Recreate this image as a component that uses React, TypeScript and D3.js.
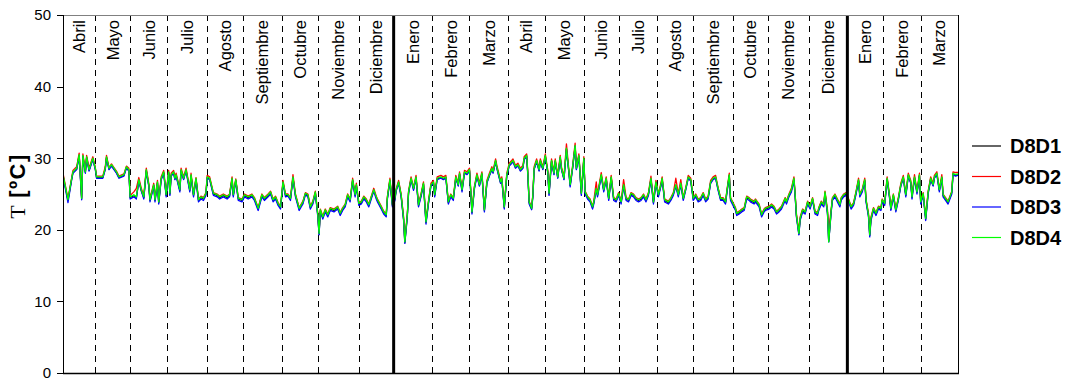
import React from 'react';
import * as d3 from 'd3';

const W = 1067;
const H = 378;
const PLOT = { left: 63, right: 958, top: 15, bottom: 373 };

// month labels (interval between consecutive boundaries)
const monthLabels = [
  'Abril', 'Mayo', 'Junio', 'Julio', 'Agosto', 'Septiembre', 'Octubre', 'Noviembre', 'Diciembre',
  'Enero', 'Febrero', 'Marzo', 'Abril', 'Mayo', 'Junio', 'Julio', 'Agosto', 'Septiembre',
  'Octubre', 'Noviembre', 'Diciembre', 'Enero', 'Febrero', 'Marzo',
];
// boundaries in day index
const monthEdges = [0, 26, 54, 84, 116, 145, 176, 205, 238, 266, 297, 327, 358, 388, 419, 447, 478, 507, 539, 567, 600, 631, 660, 690, 720];
const yearEdges = [266, 631];
const yTicks = [0, 10, 20, 30, 40, 50];

const days = [
  0,4,7,8,11,13,15,16,18,19,
  21,23,24,26,27,30,32,34,35,37,
  39,41,43,45,49,51,53,54,57,59,
  61,63,65,67,69,70,73,74,76,77,
  79,81,83,85,86,87,89,90,91,94,
  95,97,99,102,103,105,107,109,111,113,
  115,116,118,120,121,124,126,129,132,134,
  136,137,139,141,144,146,149,152,154,157,
  160,162,165,167,169,171,173,175,177,179,
  181,183,185,187,190,193,195,197,199,201,
  203,205,206,207,209,211,213,215,218,221,
  223,225,227,229,231,233,235,236,238,240,
  242,244,246,248,250,252,253,256,258,260,
  261,263,265,267,268,270,272,274,275,277,
  278,280,282,284,286,288,290,292,294,296,
  298,299,301,304,306,308,310,312,314,316,
  318,319,321,323,325,327,329,331,333,335,
  337,339,341,343,345,346,348,349,352,353,
  355,357,359,361,
  362,364,366,368,370,371,373,374,375,377,
  378,379,381,383,384,386,388,390,391,393,
  395,396,398,400,401,403,405,407,408,410,
  412,413,415,417,419,420,422,424,426,427,
  429,430,433,435,437,439,441,443,445,447,
  449,451,453,455,457,459,461,463,465,467,
  469,471,473,475,477,479,481,482,484,487,
  489,491,493,495,497,499,501,503,505,507,
  509,511,513,515,517,519,521,523,525,527,
  529,531,533,534,536,537,539,541,
  542,544,546,548,550,552,553,556,557,560,
  562,564,565,568,570,572,574,576,578,581,
  582,584,586,588,589,590,592,593,595,597,
  599,601,603,605,607,608,610,612,613,615,
  616,618,619,621,623,625,626,628,630,632,
  634,636,638,640,641,643,645,646,648,649,
  650,652,654,656,658,659,661,663,665,666,
  668,670,672,674,676,678,680,682,683,685,
  687,689,690,692,694,696,698,700,701,703,
  705,707,708,710,712,715,716,718,720,
];

const d8d1 = [
  27.6,24.1,27.1,28.0,28.5,30.4,24.3,30.3,28.0,30.1,
  28.3,29.4,29.9,28.5,27.3,27.3,27.3,28.5,30.1,28.5,
  29.0,28.5,28.0,27.3,27.6,28.7,28.3,24.5,24.8,24.5,
  26.9,25.5,24.5,28.3,26.2,24.1,26.2,24.1,26.6,23.8,
  27.1,28.0,24.8,28.0,25.0,27.6,28.0,27.1,27.6,25.5,
  28.3,27.1,28.3,25.5,27.6,24.8,27.1,24.1,24.5,24.3,
  25.0,27.3,27.1,25.7,25.0,24.8,24.5,24.8,24.5,24.8,
  27.1,24.8,26.9,24.3,24.1,24.8,24.5,24.8,24.3,22.9,
  24.8,24.3,24.8,25.2,24.1,24.5,23.6,23.1,26.6,24.8,
  24.8,24.3,27.3,24.8,22.9,23.8,25.0,24.8,23.1,23.8,
  25.2,22.0,19.4,22.7,21.7,22.7,22.0,22.9,22.7,23.1,
  22.2,22.9,23.4,24.8,24.1,26.9,24.8,26.2,23.6,23.8,
  24.5,24.1,23.4,24.5,25.5,24.5,24.1,23.1,22.4,22.0,
  24.5,26.9,23.4,24.3,25.5,26.6,24.8,21.5,18.2,22.0,
  25.2,27.1,25.7,27.3,23.4,24.8,26.4,21.0,23.8,26.2,
  26.6,24.8,27.1,27.3,27.1,27.3,23.8,24.8,24.3,27.3,
  26.2,27.8,25.5,28.0,27.8,28.3,22.4,25.9,27.6,26.2,
  27.8,22.7,26.6,27.6,28.5,28.0,29.6,28.7,26.6,27.1,
  23.1,27.6,29.0,29.4,
  29.6,28.7,29.0,28.3,28.7,29.9,30.3,27.6,23.8,22.9,
  24.8,28.5,29.6,28.3,29.6,28.5,30.3,28.0,25.0,29.6,
  27.8,29.6,27.3,30.1,28.5,27.1,31.3,28.0,26.2,28.7,
  31.7,28.5,30.3,25.0,29.9,25.2,24.5,24.1,23.1,23.8,
  25.7,24.8,27.6,25.5,27.1,24.3,27.3,24.3,24.1,25.0,
  23.8,26.2,24.3,24.1,25.0,24.8,24.3,24.1,24.3,24.8,
  24.1,25.0,27.1,23.8,26.6,24.8,26.2,27.1,24.1,23.8,
  24.3,25.0,26.2,24.8,26.4,24.3,25.7,27.3,26.9,24.3,
  24.8,24.1,24.3,25.0,24.1,24.5,26.6,27.1,27.3,25.7,
  24.3,24.3,23.8,25.2,27.6,24.3,23.6,22.9,
  22.2,22.4,22.7,22.9,24.5,24.3,24.1,23.8,24.1,23.4,
  22.0,22.7,22.9,23.1,23.4,23.1,22.4,22.7,23.1,24.3,
  23.8,24.8,25.5,27.1,24.8,22.0,19.4,21.5,22.7,22.4,
  23.8,23.1,24.3,22.4,22.2,22.9,23.8,23.4,25.2,22.4,
  18.4,22.7,24.3,24.8,24.1,23.4,24.3,24.8,25.0,24.1,
  23.1,23.6,25.2,26.9,24.8,25.5,26.9,24.1,22.0,19.2,
  21.5,22.9,22.2,23.1,22.9,24.1,23.6,27.1,24.5,22.9,
  24.8,22.7,24.3,26.2,27.3,24.8,27.6,26.6,24.5,27.3,
  25.2,27.6,23.8,25.0,21.5,25.2,27.1,26.2,27.3,27.8,
  25.5,27.3,24.8,24.3,23.8,25.2,27.8,27.6,27.7,
];

const d8d2 = [
  27.9,24.3,27.3,28.3,28.8,30.7,24.6,30.6,28.2,30.4,
  28.6,29.7,30.2,28.7,27.5,27.5,27.5,28.8,30.4,28.7,
  29.2,28.7,28.2,27.5,27.8,28.9,28.6,24.8,25.3,25.8,
  27.3,25.8,24.7,28.6,26.5,24.3,26.5,24.3,26.9,24.0,
  27.4,28.3,25.0,28.3,25.2,27.9,28.3,27.4,27.9,25.7,
  28.6,27.4,28.6,25.7,27.9,25.0,27.3,24.3,24.7,24.5,
  25.2,27.6,27.4,25.9,25.2,25.0,24.7,25.0,24.7,25.0,
  27.4,25.0,27.1,24.5,24.3,25.0,24.7,25.0,24.5,23.1,
  25.0,24.5,25.0,25.4,24.3,24.7,23.8,23.3,26.9,25.0,
  25.0,24.5,27.7,25.0,23.1,24.0,25.2,25.0,23.3,24.0,
  25.4,22.2,19.7,22.9,21.9,22.9,22.2,23.1,22.9,23.3,
  22.4,23.1,23.6,25.0,24.3,27.2,25.0,26.5,23.8,24.0,
  24.7,24.3,23.6,24.7,25.8,24.7,24.3,23.3,22.6,22.2,
  24.7,27.2,23.6,24.5,25.7,26.9,25.0,21.8,18.6,22.2,
  25.4,27.4,25.9,27.6,23.7,25.0,26.7,21.4,24.0,26.5,
  26.9,25.0,27.4,27.6,27.4,27.6,24.0,25.0,24.5,27.6,
  26.5,28.1,25.7,28.3,28.1,28.6,22.7,26.1,27.9,26.5,
  28.1,22.9,26.9,27.9,28.8,28.3,29.9,29.0,26.9,27.4,
  23.3,27.9,29.3,29.7,
  29.9,29.0,29.3,28.6,29.0,30.2,30.6,27.9,24.0,23.1,
  25.0,28.8,29.9,28.6,29.9,28.8,30.6,28.3,25.2,29.9,
  28.1,29.9,27.6,30.4,28.8,27.4,32.0,28.3,26.5,29.0,
  32.1,28.8,30.6,25.2,30.2,25.4,24.7,24.3,23.3,24.0,
  26.7,25.0,28.0,25.7,27.4,24.5,27.6,24.5,24.3,25.2,
  24.0,27.0,24.5,24.3,25.2,25.0,24.5,24.3,24.5,25.0,
  24.3,25.2,27.5,24.0,26.9,25.0,26.5,27.4,24.3,24.0,
  24.5,25.2,27.2,25.0,27.0,24.5,25.9,27.6,27.2,24.5,
  25.0,24.3,24.5,25.2,24.3,24.7,26.9,27.4,27.6,25.9,
  24.5,24.5,24.0,25.4,27.9,24.5,23.8,23.1,
  22.4,22.6,22.9,23.1,24.7,24.5,24.3,24.0,24.3,23.6,
  22.2,22.9,23.1,23.3,23.6,23.3,22.6,22.9,23.3,24.5,
  24.0,25.0,25.8,27.4,25.0,22.3,19.8,21.8,22.9,22.6,
  24.0,23.3,24.5,22.6,22.4,23.1,24.0,23.6,25.4,22.8,
  20.0,22.9,24.5,25.0,24.3,23.6,24.5,25.0,25.2,24.3,
  23.3,23.8,25.4,27.2,25.0,25.7,27.2,24.3,22.3,19.6,
  21.8,23.1,22.4,23.3,23.1,24.3,23.8,27.4,24.7,23.1,
  25.0,22.9,24.5,26.5,27.6,25.0,27.9,26.9,24.7,27.7,
  25.4,27.9,24.0,25.2,21.8,25.4,27.4,26.5,27.6,28.1,
  25.7,27.7,25.0,24.5,24.0,25.4,28.1,28.0,28.0,
];

const d8d3 = [
  27.5,23.8,27.0,27.9,28.4,30.3,24.2,30.2,27.9,30.0,
  28.2,29.3,29.8,28.4,27.2,27.2,27.2,28.4,30.0,28.4,
  28.9,28.4,27.9,27.2,27.5,28.6,28.2,24.3,24.6,24.3,
  26.8,25.4,24.3,28.2,26.1,23.9,26.1,23.9,26.5,23.6,
  27.0,27.9,24.6,27.9,24.8,27.5,27.9,27.0,27.5,25.3,
  28.2,27.0,28.2,25.3,27.5,24.6,27.0,23.9,24.3,24.1,
  24.8,27.2,27.0,25.5,24.8,24.6,24.3,24.6,24.3,24.6,
  27.0,24.6,26.8,24.1,23.9,24.6,24.3,24.6,24.1,22.7,
  24.6,24.1,24.6,25.0,23.9,24.3,23.4,22.9,26.5,24.6,
  24.7,24.1,27.2,24.6,22.7,23.6,24.9,24.6,22.9,23.6,
  25.1,21.8,19.3,22.5,21.5,22.5,21.8,22.7,22.5,22.9,
  22.0,22.7,23.2,24.6,23.9,26.8,24.6,26.1,23.4,23.6,
  24.3,23.9,23.2,24.3,25.4,24.3,23.9,22.9,22.2,21.8,
  24.3,26.8,23.2,24.1,25.4,26.5,24.6,21.3,18.1,21.8,
  25.1,27.0,25.5,27.2,23.2,24.6,26.3,20.8,23.6,26.1,
  26.5,24.6,27.0,27.2,27.0,27.2,23.6,24.6,24.1,27.2,
  26.1,27.7,25.3,27.9,27.7,28.2,22.2,25.7,27.5,26.1,
  27.7,22.5,26.5,27.5,28.4,27.9,29.5,28.6,26.5,27.0,
  22.9,27.5,28.9,29.3,
  29.5,28.6,28.9,28.2,28.6,29.8,30.2,27.4,23.6,22.8,
  24.6,28.4,29.5,28.2,29.5,28.4,30.2,27.9,24.8,29.5,
  27.7,29.5,27.2,30.0,28.4,27.0,31.2,27.9,26.0,28.6,
  31.6,28.4,30.2,24.8,29.8,25.0,24.3,23.9,22.9,23.6,
  25.6,24.6,27.5,25.3,27.0,24.1,27.2,24.1,23.9,24.8,
  23.6,26.1,24.1,23.9,24.8,24.6,24.1,23.9,24.1,24.6,
  23.9,24.8,27.0,23.6,26.5,24.6,26.1,27.0,23.9,23.6,
  24.1,24.8,26.1,24.6,26.3,24.1,25.6,27.2,26.8,24.1,
  24.6,23.9,24.1,24.8,23.9,24.3,26.5,27.0,27.2,25.5,
  24.1,24.1,23.6,25.0,27.5,24.1,23.4,22.7,
  22.0,22.2,22.5,22.7,24.3,24.1,23.9,23.6,23.9,23.2,
  21.8,22.5,22.7,22.9,23.2,22.9,22.2,22.5,22.9,24.1,
  23.6,24.6,25.3,26.9,24.6,21.8,19.3,21.3,22.5,22.2,
  23.6,22.9,24.1,22.2,22.0,22.7,23.6,23.2,25.0,22.2,
  18.3,22.5,24.1,24.6,23.9,23.2,24.1,24.6,24.8,23.9,
  22.9,23.4,25.0,26.8,24.6,25.3,26.8,23.9,21.8,19.0,
  21.3,22.7,22.0,22.9,22.7,23.9,23.4,27.0,24.3,22.7,
  24.6,22.5,24.1,26.1,27.2,24.6,27.5,26.5,24.3,27.2,
  25.0,27.5,23.6,24.8,21.3,25.0,27.0,26.1,27.2,27.7,
  25.3,27.2,24.6,24.1,23.6,25.0,27.7,27.5,27.6,
];

const d8d4 = [
  27.7,24.2,27.2,28.1,28.6,30.5,24.4,30.4,28.1,30.2,
  28.4,29.5,30.0,28.6,27.4,27.4,27.4,28.6,30.2,28.6,
  29.1,28.6,28.1,27.4,27.7,28.8,28.4,24.6,24.9,24.6,
  27.0,25.6,24.6,28.4,26.3,24.2,26.3,24.2,26.7,23.9,
  27.2,28.1,24.9,28.1,25.1,27.7,28.1,27.2,27.7,25.6,
  28.4,27.2,28.4,25.6,27.7,24.9,27.2,24.2,24.6,24.4,
  25.1,27.4,27.2,25.8,25.1,24.9,24.6,24.9,24.6,24.9,
  27.2,24.9,27.0,24.4,24.2,24.9,24.6,24.9,24.4,23.0,
  24.9,24.4,24.9,25.3,24.2,24.6,23.7,23.2,26.7,24.9,
  24.9,24.4,27.4,24.9,23.0,23.9,25.1,24.9,23.2,23.9,
  25.3,22.1,19.5,22.8,21.8,22.8,22.1,23.0,22.8,23.2,
  22.3,23.0,23.5,24.9,24.2,27.0,24.9,26.3,23.7,23.9,
  24.6,24.2,23.5,24.6,25.6,24.6,24.2,23.2,22.5,22.1,
  24.6,27.0,23.5,24.4,25.6,26.7,24.9,21.6,18.3,22.1,
  25.3,27.2,25.8,27.4,23.5,24.9,26.5,21.1,23.9,26.3,
  26.7,24.9,27.2,27.4,27.2,27.4,23.9,24.9,24.4,27.4,
  26.3,27.9,25.6,28.1,27.9,28.4,22.5,26.0,27.7,26.3,
  27.9,22.8,26.7,27.7,28.6,28.1,29.7,28.8,26.7,27.2,
  23.2,27.7,29.1,29.5,
  29.7,28.8,29.1,28.4,28.8,30.0,30.4,27.7,23.9,23.0,
  24.9,28.6,29.7,28.4,29.7,28.6,30.4,28.1,25.1,29.7,
  27.9,29.7,27.4,30.2,28.6,27.2,31.4,28.1,26.3,28.8,
  31.8,28.6,30.4,25.1,30.0,25.3,24.6,24.2,23.2,23.9,
  25.8,24.9,27.7,25.6,27.2,24.4,27.4,24.4,24.2,25.1,
  23.9,26.3,24.4,24.2,25.1,24.9,24.4,24.2,24.4,24.9,
  24.2,25.1,27.2,23.9,26.7,24.9,26.3,27.2,24.2,23.9,
  24.4,25.1,26.3,24.9,26.5,24.4,25.8,27.4,27.0,24.4,
  24.9,24.2,24.4,25.1,24.2,24.6,26.7,27.2,27.4,25.8,
  24.4,24.4,23.9,25.3,27.7,24.4,23.7,23.0,
  22.3,22.5,22.8,23.0,24.6,24.4,24.2,23.9,24.2,23.5,
  22.1,22.8,23.0,23.2,23.5,23.2,22.5,22.8,23.2,24.4,
  23.9,24.9,25.6,27.2,24.9,22.1,19.5,21.6,22.8,22.5,
  23.9,23.2,24.4,22.5,22.3,23.0,23.9,23.5,25.3,22.5,
  18.3,22.8,24.4,24.9,24.2,23.5,24.4,24.9,25.1,24.2,
  23.2,23.7,25.3,27.0,24.9,25.6,27.0,24.2,22.1,19.3,
  21.6,23.0,22.3,23.2,23.0,24.2,23.7,27.2,24.6,23.0,
  24.9,22.8,24.4,26.3,27.4,24.9,27.7,26.7,24.6,27.4,
  25.3,27.7,23.9,25.1,21.6,25.3,27.2,26.3,27.4,27.9,
  25.6,27.4,24.9,24.4,23.9,25.3,27.9,27.7,27.8,
];

const seriesNames = ['D8D1', 'D8D2', 'D8D3', 'D8D4'];
const seriesValues = [d8d1, d8d2, d8d3, d8d4];
const seriesColors = ['#000000', '#ff0000', '#0000ff', '#00ff00'];

const SANS = '"Liberation Sans", Arial, sans-serif';
const SERIF = '"Liberation Serif", "Times New Roman", serif';

export default function App() {
  const x = d3.scaleLinear().domain([0, 720]).range([PLOT.left, PLOT.right]);
  const y = d3.scaleLinear().domain([0, 50]).range([PLOT.bottom, PLOT.top]);

  const makeLine = (vals: number[]) => {
    const n = Math.min(vals.length, days.length);
    const pts: [number, number][] = [];
    for (let i = 0; i < n; i++) pts.push([days[i], vals[i]]);
    return d3.line<[number, number]>().x(d => x(d[0])).y(d => y(d[1]))(pts) || '';
  };

  const dashedEdges = monthEdges.slice(1, -1).filter(e => !yearEdges.includes(e));

  const legendX1 = 972;
  const legendX2 = 1001;
  const legendTextX = 1010;
  const legendY0 = 146;
  const legendStep = 30.5;

  return (
    <svg
      width={W}
      height={H}
      viewBox={`0 0 ${W} ${H}`}
      style={{ position: 'absolute', left: 0, top: 0, background: '#fff' }}
    >
      <rect x={0} y={0} width={W} height={H} fill="#fff" />
      <defs>
        <clipPath id="plotClip">
          <rect x={PLOT.left} y={PLOT.top} width={PLOT.right - PLOT.left} height={PLOT.bottom - PLOT.top} />
        </clipPath>
      </defs>

      {/* month separators */}
      {dashedEdges.map((e, i) => (
        <line
          key={`d${i}`}
          x1={Math.round(x(e)) + 0.5}
          x2={Math.round(x(e)) + 0.5}
          y1={PLOT.top}
          y2={PLOT.bottom}
          stroke="#000"
          strokeWidth={1}
          strokeDasharray="6,5"
        />
      ))}

      {/* month labels */}
      {monthLabels.map((m, i) => {
        const cx = (x(monthEdges[i]) + x(monthEdges[i + 1])) / 2;
        return (
          <text
            key={`m${i}`}
            transform={`translate(${cx},20) rotate(-90)`}
            textAnchor="end"
            dy="0.35em"
            fontFamily={SANS}
            fontSize={16.5}
            fill="#000"
          >
            {m}
          </text>
        );
      })}

      {/* series */}
      <g clipPath="url(#plotClip)">
        {seriesValues.map((vals, i) => (
          <path
            key={seriesNames[i]}
            d={makeLine(vals)}
            fill="none"
            stroke={seriesColors[i]}
            strokeWidth={1.3}
            strokeLinejoin="round"
          />
        ))}
      </g>

      {/* year separators */}
      {yearEdges.map((e, i) => (
        <line
          key={`y${i}`}
          x1={x(e)}
          x2={x(e)}
          y1={PLOT.top}
          y2={PLOT.bottom}
          stroke="#000"
          strokeWidth={3}
        />
      ))}

      {/* frame */}
      <line x1={PLOT.left} x2={PLOT.right} y1={PLOT.top + 0.5} y2={PLOT.top + 0.5} stroke="#808080" strokeWidth={1} />
      <line x1={PLOT.right + 0.5} x2={PLOT.right + 0.5} y1={PLOT.top} y2={PLOT.bottom} stroke="#000" strokeWidth={1} />
      <line x1={PLOT.left} x2={PLOT.right + 1} y1={PLOT.bottom + 0.5} y2={PLOT.bottom + 0.5} stroke="#000" strokeWidth={1.5} />
      <line x1={PLOT.left + 0.5} x2={PLOT.left + 0.5} y1={PLOT.top} y2={PLOT.bottom + 1} stroke="#000" strokeWidth={1} />

      {/* y axis ticks */}
      {yTicks.map(t => (
        <g key={`t${t}`}>
          <line x1={PLOT.left - 6} x2={PLOT.left} y1={Math.round(y(t)) + 0.5} y2={Math.round(y(t)) + 0.5} stroke="#000" strokeWidth={1} />
          <text x={51} y={y(t)} dy="0.36em" textAnchor="end" fontFamily={SANS} fontSize={15} fill="#000">
            {t}
          </text>
        </g>
      ))}

      {/* y axis title */}
      <text transform="translate(19,186) rotate(-90)" textAnchor="middle" dy="0.35em" fill="#000">
        <tspan fontFamily={SERIF} fontSize={22}>T</tspan>
        <tspan fontFamily={SANS} fontWeight="bold" fontSize={22} letterSpacing={1.5}> [ºC]</tspan>
      </text>

      {/* legend */}
      {seriesNames.map((n, i) => {
        const ly = legendY0 + i * legendStep;
        return (
          <g key={`l${n}`}>
            <line x1={legendX1} x2={legendX2} y1={ly} y2={ly} stroke={seriesColors[i]} strokeWidth={1.2} />
            <text x={legendTextX} y={ly} dy="0.36em" fontFamily={SANS} fontWeight="bold" fontSize={20} fill="#000">
              {n}
            </text>
          </g>
        );
      })}
    </svg>
  );
}
